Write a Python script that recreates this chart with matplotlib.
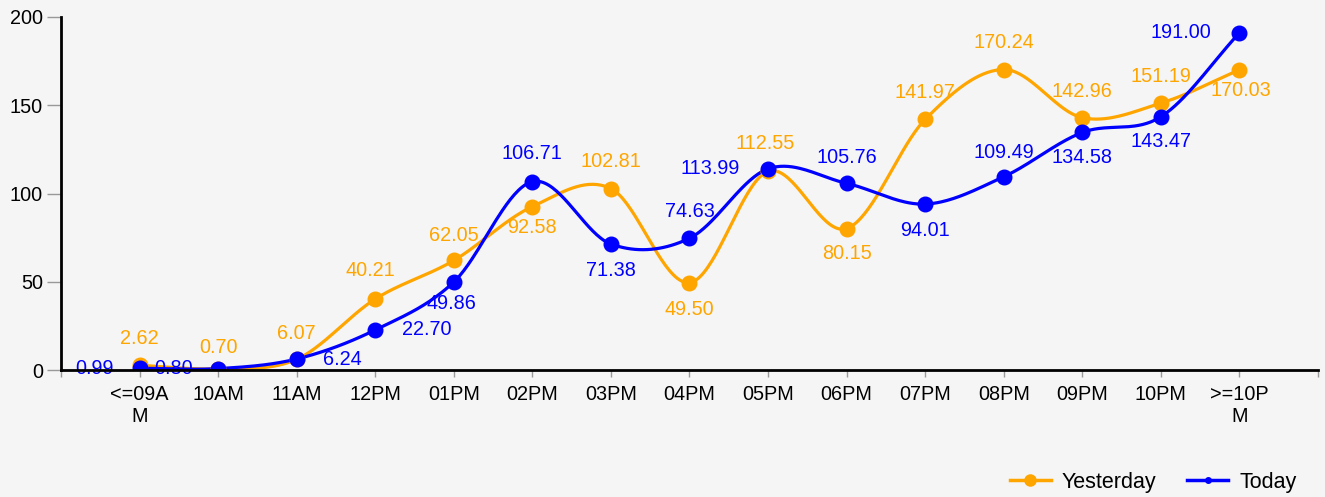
import numpy as np
import matplotlib.pyplot as plt
from matplotlib.lines import Line2D

plt.rcParams['font.family'] = ['Liberation Sans', 'DejaVu Sans']

hours = ['<=09A\nM', '10AM', '11AM', '12PM', '01PM', '02PM', '03PM', '04PM',
         '05PM', '06PM', '07PM', '08PM', '09PM', '10PM', '>=10P\nM']
yesterday = [2.62, 0.70, 6.07, 40.21, 62.05, 92.58, 102.81, 49.50,
             112.55, 80.15, 141.97, 170.24, 142.96, 151.19, 170.03]
today = [0.99, 0.80, 6.24, 22.70, 49.86, 106.71, 71.38, 74.63,
         113.99, 105.76, 94.01, 109.49, 134.58, 143.47, 191.00]

# label offsets in pixels (dx, dy)
off_y = [(0, 27), (0, 21), (0, 26), (-5, 29), (0, 25), (0, -21), (0, 27), (0, -27),
         (-3, 28), (0, -25), (0, 27), (0, 27), (0, 26), (0, 27), (1, -21)]
off_t = [(-45, 0), (-45, 0), (46, 0), (52, 0), (-2, -21), (0, 28), (0, -26), (0, 27),
         (-58, 0), (0, 26), (0, -26), (0, 24), (0, -25), (0, -25), (-59, 0)]

ORANGE = '#FFA500'
BLUE = '#0000FF'
BG = '#F5F5F5'


def smooth(x, y, n=40):
    # catmull-rom spline through the points
    x = np.asarray(x, float)
    y = np.asarray(y, float)
    m = np.zeros_like(y)
    m[1:-1] = (y[2:] - y[:-2]) / 2
    m[0] = y[1] - y[0]
    m[-1] = y[-1] - y[-2]
    xs, ys = [], []
    for i in range(len(x) - 1):
        t = np.linspace(0, 1, n)
        h00 = 2*t**3 - 3*t**2 + 1
        h10 = t**3 - 2*t**2 + t
        h01 = -2*t**3 + 3*t**2
        h11 = t**3 - t**2
        xs.append(x[i] + t*(x[i+1] - x[i]))
        ys.append(h00*y[i] + h10*m[i] + h01*y[i+1] + h11*m[i+1])
    return np.concatenate(xs), np.concatenate(ys)


fig = plt.figure(figsize=(13.25, 4.97), dpi=100, facecolor=BG)
ax = fig.add_axes([0.046, 0.2555, 0.9487, 0.7103], facecolor=BG)

pos = np.arange(1, len(hours) + 1)

for vals, col, offs in [(yesterday, ORANGE, off_y), (today, BLUE, off_t)]:
    sx, sy = smooth(pos, vals)
    ax.plot(sx, sy, color=col, lw=2.3, zorder=3)
    ax.plot(pos, vals, 'o', color=col, ms=10.5, zorder=4)
    for x, v, (dx, dy) in zip(pos, vals, offs):
        ax.annotate(f'{v:.2f}', (x, v), xytext=(dx, dy), textcoords='offset pixels',
                    ha='center', va='center', color=col, fontsize=14.3, zorder=5)

ax.set_xlim(0, 16)
ax.set_ylim(0, 200)
ax.set_xticks(np.arange(0, 17))
ax.set_xticklabels([''] + hours + [''])
ax.set_yticks([0, 50, 100, 150, 200])

for s in ['top', 'right']:
    ax.spines[s].set_visible(False)
for s in ['left', 'bottom']:
    ax.spines[s].set_linewidth(2)
    ax.spines[s].set_color('black')
    ax.spines[s].set_zorder(6)

ax.tick_params(axis='y', length=10, width=1, color='#999999', labelsize=14.3, pad=3)
ax.tick_params(axis='x', length=5, width=1, color='#999999', labelsize=14.3, pad=6)

handles = [Line2D([], [], color=ORANGE, lw=2.5, marker='o', ms=8),
           Line2D([], [], color=BLUE, lw=2.5, marker='o', ms=4)]
fig.legend(handles, ['Yesterday', 'Today'], loc='lower right',
           bbox_to_anchor=(0.993, -0.03), ncol=2, frameon=False, fontsize=15.5,
           handlelength=1.9, columnspacing=1.45, handletextpad=0.5)

fig.savefig('out.png', dpi=100, facecolor=BG)
